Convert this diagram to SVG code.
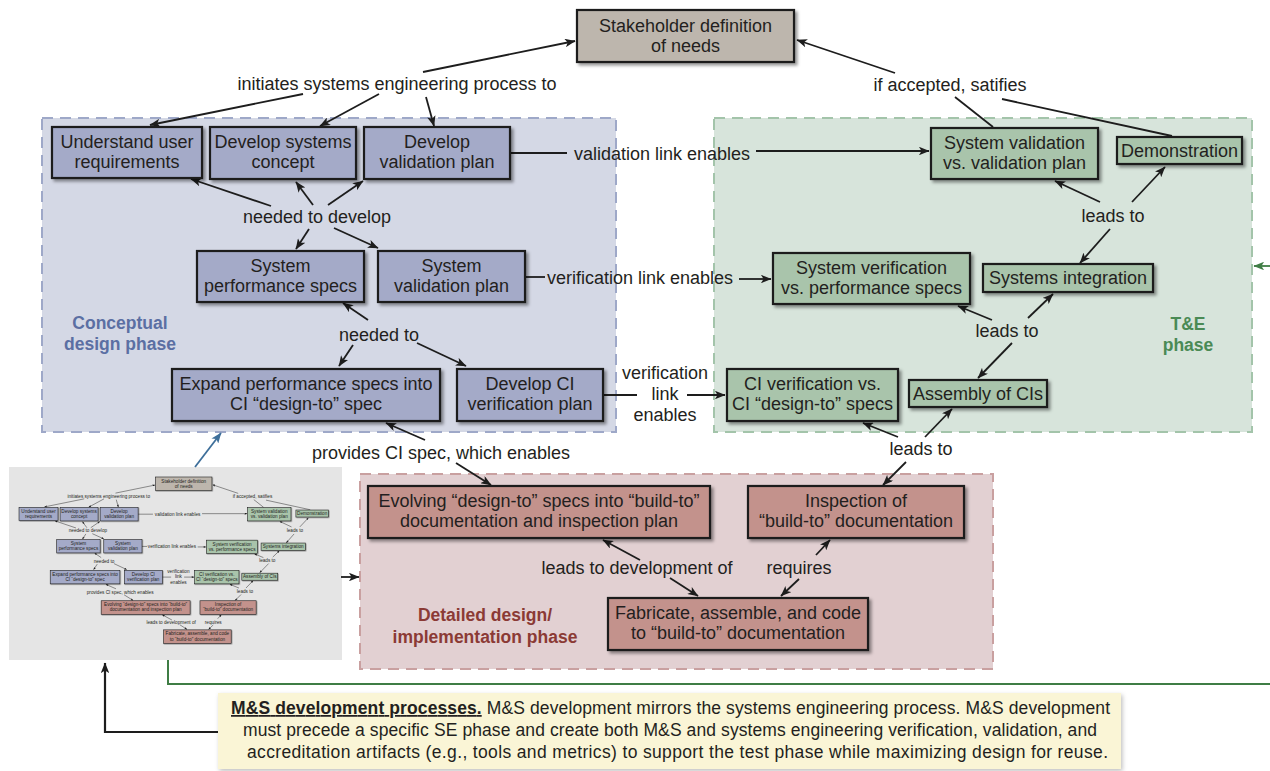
<svg xmlns="http://www.w3.org/2000/svg" xmlns:xlink="http://www.w3.org/1999/xlink" width="1270" height="771" viewBox="0 0 1270 771">
<defs>
<style>
text{font-family:"Liberation Sans",Arial,sans-serif;font-size:18px;fill:#231f20}
.m{text-anchor:middle}
.node rect{stroke:#1d1d1d;stroke-width:2.2;filter:url(#sh)}
.cd rect{fill:#a4aac8}
.te rect{fill:#a9c4ab}
.dd rect{fill:#c3928c}
.sk rect{fill:#bdb6ad}
.conn line,.conn polyline{stroke:#1d1d1d;stroke-width:1.8;fill:none}
.a{marker-end:url(#ah)}
.region{stroke-width:2;stroke-dasharray:11 7}
.ph{font-weight:bold;font-size:17.5px;text-anchor:middle}
.nt{font-size:17.5px}
</style>
<filter id="sh" x="-10%" y="-20%" width="125%" height="150%">
<feDropShadow dx="2.5" dy="2.5" stdDeviation="1.6" flood-color="#000" flood-opacity="0.4"/>
</filter>
<filter id="sh2" x="-5%" y="-10%" width="110%" height="130%">
<feDropShadow dx="1.5" dy="2" stdDeviation="2" flood-color="#000" flood-opacity="0.25"/>
</filter>
<marker id="ah" viewBox="0 0 10 8" refX="9.5" refY="4" markerWidth="11" markerHeight="8.5" markerUnits="userSpaceOnUse" orient="auto"><path d="M0,0 L10,4 L0,8 L2.5,4 z" fill="#1d1d1d"/></marker>
<marker id="ahb" viewBox="0 0 10 8" refX="9.5" refY="4" markerWidth="11" markerHeight="8.5" markerUnits="userSpaceOnUse" orient="auto"><path d="M0,0 L10,4 L0,8 L2.5,4 z" fill="#3e6f9a"/></marker>
<marker id="ahg" viewBox="0 0 10 8" refX="9.5" refY="4" markerWidth="11" markerHeight="8.5" markerUnits="userSpaceOnUse" orient="auto"><path d="M0,0 L10,4 L0,8 L2.5,4 z" fill="#3f7d45"/></marker>
</defs>
<rect width="1270" height="771" fill="#ffffff"/>

<g id="regions">
<rect id="region-conceptual" class="region" x="42" y="118" width="574" height="314" fill="#d4d8e5" stroke="#9ea8c8"/>
<rect id="region-te" class="region" x="714" y="118" width="538" height="314" fill="#d7e4db" stroke="#a3c4aa"/>
<rect id="region-detailed" class="region" x="360" y="474" width="633" height="195" fill="#e2d0d2" stroke="#c9a0a0"/>
<text class="ph" x="120" y="329" style="fill:#5b6fa3">Conceptual</text>
<text class="ph" x="120" y="350" style="fill:#5b6fa3">design phase</text>
<text class="ph" x="1188" y="330" style="fill:#4a8a55">T&amp;E</text>
<text class="ph" x="1188" y="351" style="fill:#4a8a55">phase</text>
<text class="ph" x="485" y="621" style="fill:#8b3a35">Detailed design/</text>
<text class="ph" x="485" y="643" style="fill:#8b3a35">implementation phase</text>
</g>

<g id="graph">
<g id="connectors" class="conn">
<line class="a" x1="423" y1="72" x2="575" y2="41"/>
<line class="a" x1="303" y1="94" x2="150" y2="125"/>
<line class="a" x1="379" y1="94" x2="320" y2="126"/>
<line class="a" x1="426" y1="97" x2="434" y2="126"/>
<line class="a" x1="895" y1="73" x2="797" y2="40"/>
<line x1="955" y1="97" x2="993" y2="127"/>
<line x1="1002" y1="99" x2="1172" y2="136"/>
<line x1="510" y1="153" x2="567" y2="153"/>
<line class="a" x1="756" y1="151" x2="929" y2="151"/>
<line x1="525" y1="277" x2="545" y2="277"/>
<line class="a" x1="739" y1="279" x2="771" y2="279"/>
<line x1="603" y1="395" x2="637" y2="395"/>
<line class="a" x1="687" y1="395" x2="725" y2="395"/>
<line class="a" x1="271" y1="206" x2="191" y2="179"/>
<line class="a" x1="313" y1="205" x2="296" y2="182"/>
<line class="a" x1="328" y1="205" x2="363" y2="181"/>
<line class="a" x1="309" y1="229" x2="296" y2="249"/>
<line class="a" x1="334" y1="228" x2="378" y2="248"/>
<line class="a" x1="368" y1="320" x2="343" y2="303"/>
<line class="a" x1="353" y1="345" x2="339" y2="366"/>
<line class="a" x1="417" y1="343" x2="466" y2="366"/>
<line class="a" x1="1100" y1="202" x2="1055" y2="181"/>
<line class="a" x1="1132" y1="202" x2="1165" y2="167"/>
<line class="a" x1="1110" y1="229" x2="1080" y2="263"/>
<line class="a" x1="992" y1="320" x2="958" y2="306"/>
<line class="a" x1="1028" y1="318" x2="1053" y2="294"/>
<line class="a" x1="1012" y1="343" x2="978" y2="378"/>
<line class="a" x1="898" y1="437" x2="863" y2="423"/>
<line class="a" x1="925" y1="437" x2="952" y2="409"/>
<line class="a" x1="906" y1="462" x2="883" y2="485"/>
<line class="a" x1="425" y1="440" x2="386" y2="423"/>
<line class="a" x1="456" y1="463" x2="491" y2="485"/>
<line class="a" x1="640" y1="560" x2="603" y2="540"/>
<line class="a" x1="670" y1="578" x2="698" y2="596"/>
<line class="a" x1="816" y1="555" x2="830" y2="540"/>
<line class="a" x1="799" y1="579" x2="781" y2="596"/>
</g>
<g id="edge-labels">
<text class="m" x="397" y="90">initiates systems engineering process to</text>
<text class="m" x="950" y="91">if accepted, satifies</text>
<text class="m" x="317" y="223">needed to develop</text>
<text class="m" x="379" y="341">needed to</text>
<text class="m" x="662" y="160">validation link enables</text>
<text class="m" x="640" y="284">verification link enables</text>
<text class="m" x="665" y="379">verification</text>
<text class="m" x="665" y="400">link</text>
<text class="m" x="665" y="421">enables</text>
<text class="m" x="1113" y="222">leads to</text>
<text class="m" x="1007" y="337">leads to</text>
<text class="m" x="921" y="455">leads to</text>
<text class="m" x="441" y="459">provides CI spec, which enables</text>
<text class="m" x="637" y="574">leads to development of</text>
<text class="m" x="799" y="574">requires</text>
</g>

<g id="n-stakeholder" class="node sk"><rect x="577" y="10" width="217" height="52"/><text class="m" x="685.5" y="32">Stakeholder definition</text><text class="m" x="685.5" y="52">of needs</text></g>

<g id="n-understand" class="node cd"><rect x="52" y="127" width="150" height="51"/><text class="m" x="127" y="148">Understand user</text><text class="m" x="127" y="168">requirements</text></g>
<g id="n-concept" class="node cd"><rect x="210" y="127" width="146" height="52"/><text class="m" x="283" y="148">Develop systems</text><text class="m" x="283" y="168">concept</text></g>
<g id="n-valplan" class="node cd"><rect x="364" y="127" width="146" height="52"/><text class="m" x="437" y="148">Develop</text><text class="m" x="437" y="168">validation plan</text></g>
<g id="n-perf" class="node cd"><rect x="197" y="251" width="167" height="51"/><text class="m" x="280.5" y="272">System</text><text class="m" x="280.5" y="292">performance specs</text></g>
<g id="n-sysvalplan" class="node cd"><rect x="378" y="251" width="147" height="51"/><text class="m" x="451.5" y="272">System</text><text class="m" x="451.5" y="292">validation plan</text></g>
<g id="n-expand" class="node cd"><rect x="172" y="369" width="268" height="52"/><text class="m" x="306" y="390">Expand performance specs into</text><text class="m" x="306" y="410">CI “design-to” spec</text></g>
<g id="n-civplan" class="node cd"><rect x="457" y="369" width="146" height="52"/><text class="m" x="530" y="390">Develop CI</text><text class="m" x="530" y="410">verification plan</text></g>

<g id="n-sysvalid" class="node te"><rect x="931" y="128" width="167" height="51"/><text class="m" x="1014.5" y="149">System validation</text><text class="m" x="1014.5" y="169">vs. validation plan</text></g>
<g id="n-demo" class="node te"><rect x="1117" y="137" width="125" height="27"/><text class="m" x="1179.5" y="157">Demonstration</text></g>
<g id="n-sysverif" class="node te"><rect x="773" y="253" width="197" height="51"/><text class="m" x="871.5" y="274">System verification</text><text class="m" x="871.5" y="294">vs. performance specs</text></g>
<g id="n-integ" class="node te"><rect x="983" y="264" width="170" height="28"/><text class="m" x="1068" y="284">Systems integration</text></g>
<g id="n-civerif" class="node te"><rect x="727" y="369" width="171" height="52"/><text class="m" x="812.5" y="390">CI verification vs.</text><text class="m" x="812.5" y="410">CI “design-to” specs</text></g>
<g id="n-assembly" class="node te"><rect x="909" y="380" width="138" height="27"/><text class="m" x="978" y="400">Assembly of CIs</text></g>

<g id="n-evolving" class="node dd"><rect x="368" y="486" width="342" height="52"/><text class="m" x="539" y="507">Evolving “design-to” specs into “build-to”</text><text class="m" x="539" y="527">documentation and inspection plan</text></g>
<g id="n-inspection" class="node dd"><rect x="748" y="486" width="216" height="52"/><text class="m" x="856" y="507">Inspection of</text><text class="m" x="856" y="527">“build-to” documentation</text></g>
<g id="n-fabricate" class="node dd"><rect x="608" y="598" width="260" height="52"/><text class="m" x="738" y="619">Fabricate, assemble, and code</text><text class="m" x="738" y="639">to “build-to” documentation</text></g>
</g>

<g id="thumbnail">
<rect x="9" y="467" width="333" height="193" fill="#e5e5e5"/>
<use href="#graph" xlink:href="#graph" transform="translate(5.5,474.4) scale(0.26)"/>
</g>

<g id="outer-connectors" class="conn">
<line x1="195" y1="467" x2="221" y2="433" style="stroke:#3e6f9a;marker-end:url(#ahb)"/>
<line class="a" x1="341" y1="577" x2="359" y2="577"/>
<polyline points="168,660 168,684 1270,684" style="stroke:#3f7d45;stroke-width:2"/>
<line x1="1270" y1="266" x2="1254" y2="266" style="stroke:#3f7d45;marker-end:url(#ahg)"/>
<polyline class="a" points="220,732 105,732 105,663" style="stroke-width:2.2"/>
</g>

<g id="note">
<rect x="218" y="693" width="903" height="76" fill="#faf5d6" filter="url(#sh2)"/>
<text class="nt" x="231" y="714" textLength="879" lengthAdjust="spacing"><tspan font-weight="bold" text-decoration="underline">M&amp;S development processes.</tspan> M&amp;S development mirrors the systems engineering process. M&amp;S development</text>
<text class="nt" x="243" y="736" textLength="854" lengthAdjust="spacing">must precede a specific SE phase and create both M&amp;S and systems engineering verification, validation, and</text>
<text class="nt" x="247" y="758" textLength="861" lengthAdjust="spacing">accreditation artifacts (e.g., tools and metrics) to support the test phase while maximizing design for reuse.</text>
</g>
</svg>
